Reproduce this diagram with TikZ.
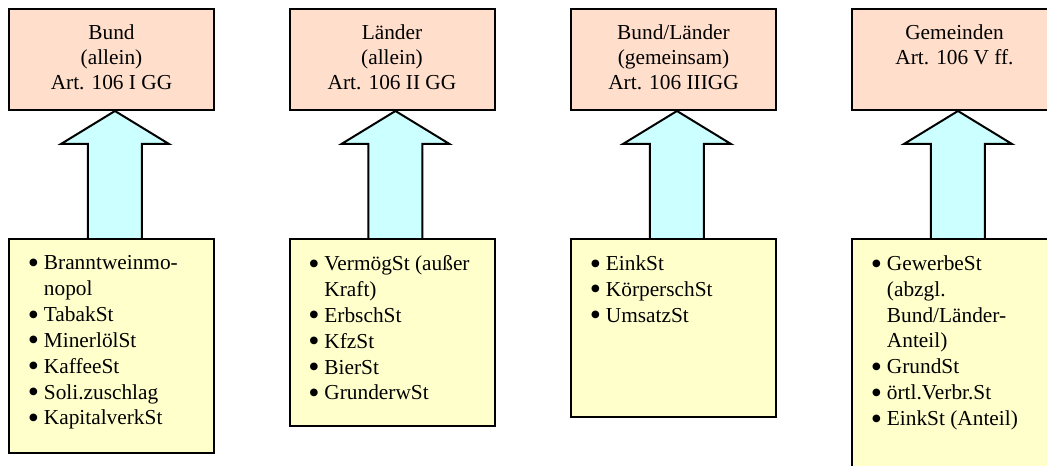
\documentclass[tikz,border=0pt]{standalone}
\usepackage{fontspec}
\setmainfont{Liberation Serif}
\definecolor{toporange}{HTML}{FFDFCC}
\definecolor{listyellow}{HTML}{FFFFCC}
\definecolor{arrowcyan}{HTML}{CCFFFF}
\newcommand{\itm}{\makebox[11pt][l]{\hspace*{-1pt}\raisebox{-0.17em}{\scalebox{1.5}{\textbullet}}}}
\newcommand{\cont}{\hspace*{11pt}}
\begin{document}
\begin{tikzpicture}[x=0.75pt,y=-0.75pt,top_node/.style={rectangle,draw,line width=1.5pt,fill=toporange,minimum width=153.75pt,minimum height=75.75pt,inner sep=0pt},list_node/.style={rectangle,draw,line width=1.5pt,fill=listyellow,minimum width=153.75pt,inner sep=0pt},top_text/.style={anchor=north,align=center,inner sep=0pt,font=\fontsize{16}{18.75}\selectfont},list_text/.style={anchor=north west,align=left,inner sep=0pt,font=\fontsize{16}{19.4}\selectfont},up_arrow/.style={draw,line width=1.5pt,fill=arrowcyan,line join=miter}]
		
		\clip (0,0) rectangle (1047,466);
		
		\node[top_node] (t1) at (111.5,59.5) {};
		\node[top_node] (t2) at (392,59.5) {};
		\node[top_node] (t3) at (673.5,59.5) {};
		\node[top_node] (t4) at (954.5,59.5) {};
		
		\node[top_text] (t1_text) at ([yshift=-12pt]t1.north) {Bund\\(allein)\\Art. 106 I GG};
		\node[top_text] (t2_text) at ([yshift=-12pt]t2.north) {Länder\\(allein)\\Art. 106 II GG};
		\node[top_text] (t3_text) at ([yshift=-12pt]t3.north) {Bund/Länder\\(gemeinsam)\\Art. 106 IIIGG};
		\node[top_text] (t4_text) at ([yshift=-12pt]t4.north) {Gemeinden\\Art. 106 V ff.};
		
		\draw[up_arrow] ([xshift=2.6pt]t1.south) -- ++(54,33) -- ++(-27,0) -- ++(0,96) -- ++(-54,0) -- ++(0,-96) -- ++(-27,0) -- cycle;
		\draw[up_arrow] ([xshift=2.6pt]t2.south) -- ++(54,33) -- ++(-27,0) -- ++(0,96) -- ++(-54,0) -- ++(0,-96) -- ++(-27,0) -- cycle;
		\draw[up_arrow] ([xshift=2.6pt]t3.south) -- ++(54,33) -- ++(-27,0) -- ++(0,96) -- ++(-54,0) -- ++(0,-96) -- ++(-27,0) -- cycle;
		\draw[up_arrow] ([xshift=2.6pt]t4.south) -- ++(54,33) -- ++(-27,0) -- ++(0,96) -- ++(-54,0) -- ++(0,-96) -- ++(-27,0) -- cycle;
		
		\node[list_node,minimum height=160.5pt] (b1) at (111.5,346) {};
		\node[list_node,minimum height=140.25pt] (b2) at (392,332.5) {};
		\node[list_node,minimum height=133.5pt] (b3) at (673.5,328) {};
		\node[list_node,minimum height=195pt] (b4) at (954.5,369) {};
		
		\node[list_text] (l1) at ([xshift=15.75pt,yshift=-13pt]b1.north west) {\itm Branntweinmo-\\\cont nopol\\\itm TabakSt\\\itm MinerlölSt\\\itm KaffeeSt\\\itm Soli.zuschlag\\\itm KapitalverkSt};
		\node[list_text] (l2) at ([xshift=15.75pt,yshift=-13pt]b2.north west) {\itm VermögSt (außer\\\cont Kraft)\\\itm ErbschSt\\\itm KfzSt\\\itm BierSt\\\itm GrunderwSt};
		\node[list_text] (l3) at ([xshift=15.75pt,yshift=-13pt]b3.north west) {\itm EinkSt\\\itm KörperschSt\\\itm UmsatzSt};
		\node[list_text] (l4) at ([xshift=15.75pt,yshift=-13pt]b4.north west) {\itm GewerbeSt\\\cont (abzgl.\\\cont Bund/Länder-\\\cont Anteil)\\\itm GrundSt\\\itm örtl.Verbr.St\\\itm EinkSt (Anteil)};
		\end{tikzpicture}
\end{document}
